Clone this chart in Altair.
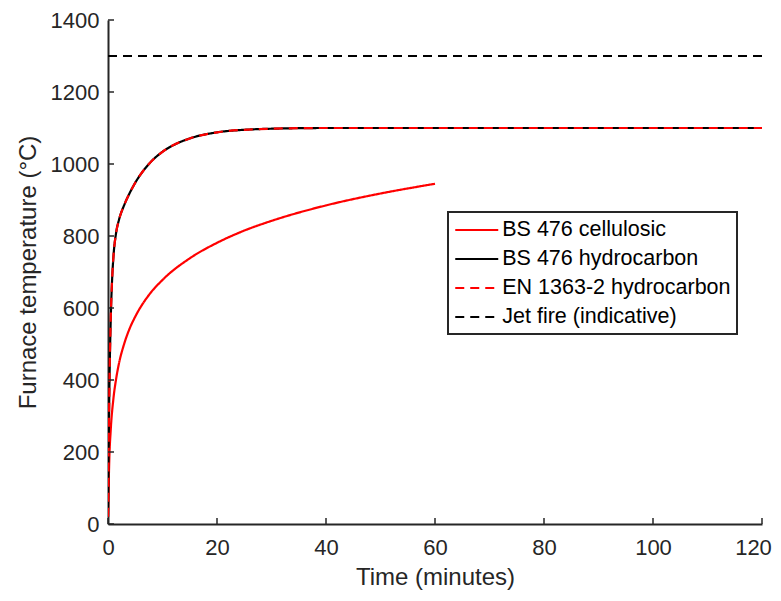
import altair as alt
import pandas as pd

# ---- data ----
series_names = ["BS 476 cellulosic", "BS 476 hydrocarbon",
                "EN 1363-2 hydrocarbon", "Jet fire (indicative)"]

cell_time = [0, 0.25, 0.5, 1, 1.5, 2, 3, 4, 5, 7.5, 10, 15, 20, 25, 30, 40, 50, 60]
cell_temp = [20, 185, 261, 349, 404, 445, 502, 544, 576, 636, 678, 738, 781,
             815, 842, 885, 918, 945]

hydro_time = [0, 0.25, 0.5, 0.75, 1, 1.5, 2, 3, 4, 5, 7.5, 10, 12.5, 15, 20,
              25, 30, 40, 60, 90, 120]
hydro_temp = [20, 373, 568, 678, 743, 810, 844, 887, 920, 948, 1000, 1034,
              1056, 1071, 1088, 1095, 1098, 1100, 1100, 1100, 1100]

en_time = hydro_time
en_temp = hydro_temp

jet_time = [0, 120]
jet_temp = [1300, 1300]

x_ticks = [0, 20, 40, 60, 80, 100, 120]
y_ticks = [0, 200, 400, 600, 800, 1000, 1200, 1400]

# ---- build table ----
rows = []
for name, ts, vs in [(series_names[0], cell_time, cell_temp),
                     (series_names[1], hydro_time, hydro_temp),
                     (series_names[2], en_time, en_temp),
                     (series_names[3], jet_time, jet_temp)]:
    for i, (t, v) in enumerate(zip(ts, vs)):
        rows.append({"t": t, "T": v, "series": name, "order": i})
df = pd.DataFrame(rows)

W, H = 654, 504
AX = "#262626"
FONT = "Liberation Sans"

xscale = alt.Scale(domain=[0, 120], nice=False, zero=False)
yscale = alt.Scale(domain=[0, 1400], nice=False, zero=False)

xaxis = alt.Axis(values=x_ticks, ticks=False, tickSize=0, grid=False,
                 labelFlush=False, labelOverlap=False,
                 labelOffset={"condition": {"test": "datum.value == 120",
                                            "value": -9}, "value": 0},
                 labelPadding=13, titlePadding=7, format="d")
yaxis = alt.Axis(values=y_ticks, ticks=False, tickSize=0, grid=False,
                 labelFlush=False, labelOverlap=False,
                 labelPadding=9, titlePadding=10, format="d")

X = alt.X("t:Q", scale=xscale, axis=xaxis, title="Time (minutes)")
Y = alt.Y("T:Q", scale=yscale, axis=yaxis, title="Furnace temperature (°C)")

SYM = 21.5  # layout size of a legend entry; the drawn stroke is twice as long
legend = alt.Legend(title=None, orient="none", legendX=340, legendY=192,
                    symbolType="M-2,0L2,0", symbolSize=SYM * SYM,
                    symbolStrokeWidth=2.2, symbolOffset=SYM / 2,
                    labelFontSize=21.5, labelFont=FONT, labelColor="black",
                    padding=6, rowPadding=6, labelOffset=SYM - 8,
                    labelLimit=0, strokeColor=AX, fillColor="white")

color = alt.Color("series:N",
                  scale=alt.Scale(domain=series_names,
                                  range=["#ff0000", "#000000", "#ff0000", "#000000"]),
                  legend=legend)
dash = alt.StrokeDash("series:N",
                      scale=alt.Scale(domain=series_names,
                                      range=[[1, 0], [1, 0], [9, 6], [9, 6]]),
                      legend=legend)

def line_layer(name):
    return (alt.Chart(df)
            .transform_filter(alt.datum.series == name)
            .mark_line(strokeWidth=2.2, interpolate="monotone", clip=True)
            .encode(x=X, y=Y, color=color, strokeDash=dash,
                    order=alt.Order("order:Q")))

layers = [line_layer(n) for n in series_names]

xt = pd.DataFrame({"t": x_ticks})
yt = pd.DataFrame({"T": y_ticks})
xtick_layer = alt.Chart(xt).mark_rule(color=AX, strokeWidth=1.5).encode(
    x=X, y=alt.value(H), y2=alt.value(H - 6))
ytick_layer = alt.Chart(yt).mark_rule(color=AX, strokeWidth=1.5).encode(
    y=Y, x=alt.value(0), x2=alt.value(6))

chart = (alt.layer(*layers, xtick_layer, ytick_layer)
         .properties(width=W, height=H,
                     autosize=alt.AutoSizeParams(type="none"),
                     padding={"left": 100, "top": 12, "right": 11, "bottom": 67})
         .configure_view(stroke=None)
         .configure_axis(domainColor=AX, domainWidth=2, labelFont=FONT,
                         labelFontSize=22, labelColor=AX, titleFont=FONT,
                         titleFontSize=24, titleFontWeight="normal",
                         titleColor=AX)
         .configure_legend(strokeWidth=2))

chart.save("out.html", embed_options={"renderer": "svg", "actions": False})
